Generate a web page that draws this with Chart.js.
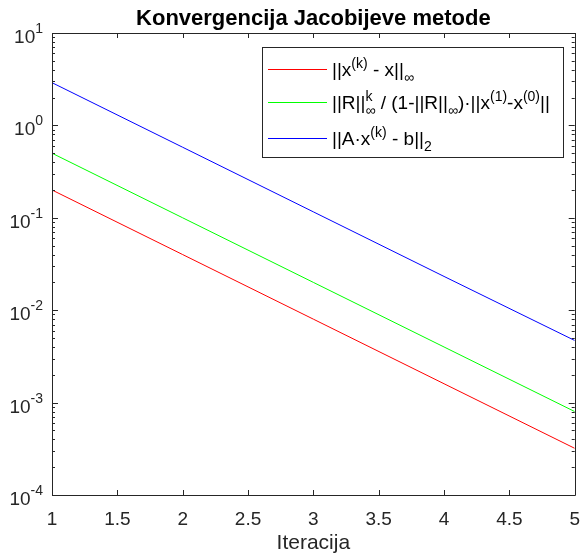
<html lang="hr">
<head>
  <meta charset="utf-8">
  <title>Konvergencija Jacobijeve metode</title>
  <style>
    body { padding: 0; margin: 0; background: #fff; }
  </style>
  <script src="https://cdn.jsdelivr.net/npm/chart.js@4.4.1/dist/chart.umd.min.js"></script>
</head>
<body>
  <canvas id="chart" width="585" height="554"></canvas>
  <script>
    // podaci
    const iterations = [1, 2, 3, 4, 5];
    const errTrue = [0.2, 0.04, 0.008, 0.0016, 0.00032];
    const errBound = [0.5, 0.1, 0.02, 0.004, 0.0008];
    const residual = [2.9, 0.58, 0.116, 0.0232, 0.0047];
    const yTickExps = [-4, -3, -2, -1, 0, 1];
    const titleText = 'Konvergencija Jacobijeve metode';
    const xLabel = 'Iteracija';

    // legenda: [tekst, 'n' | 'sup' | 'sub' | 'both']
    const legendRows = [
      { color: '#ff0000', parts: [['||x', 'n'], ['(k)', 'sup'], [' - x||', 'n'], ['\u221e', 'sub']] },
      { color: '#00ff00', parts: [['||R||', 'n'], [['k', '\u221e'], 'both'], [' / (1-||R||', 'n'], ['\u221e', 'sub'],
          [')\u00b7||x', 'n'], ['(1)', 'sup'], ['-x', 'n'], ['(0)', 'sup'], ['||', 'n']] },
      { color: '#0000ff', parts: [['||A\u00b7x', 'n'], ['(k)', 'sup'], [' - b||', 'n'], ['2', 'sub']] }
    ];

    const FONT = '"Liberation Sans", Arial, Helvetica, sans-serif';
    const AX = '#262626';

    const pts = arr => arr.map((v, i) => ({ x: iterations[i], y: v }));

    function drawRich(ctx, x, y, parts) {
      const big = '19px ' + FONT, small = '14px ' + FONT;
      ctx.textBaseline = 'alphabetic';
      ctx.textAlign = 'left';
      parts.forEach(([t, m]) => {
        if (m === 'n') {
          ctx.font = big; ctx.fillText(t, x, y); x += ctx.measureText(t).width;
        } else if (m === 'sup') {
          ctx.font = small; ctx.fillText(t, x, y - 8); x += ctx.measureText(t).width;
        } else if (m === 'sub') {
          ctx.font = small; ctx.fillText(t, x, y + 6); x += ctx.measureText(t).width;
        } else {
          ctx.font = small;
          ctx.fillText(t[0], x, y - 8);
          ctx.fillText(t[1], x, y + 6);
          x += Math.max(ctx.measureText(t[0]).width, ctx.measureText(t[1]).width);
        }
      });
    }

    const axisDecor = {
      id: 'axisDecor',
      afterDatasetsDraw(chart) {
        const ctx = chart.ctx;
        const a = chart.chartArea;
        const xs = chart.scales.x, ys = chart.scales.y;
        ctx.save();
        ctx.strokeStyle = AX;
        ctx.lineWidth = 1;
        ctx.beginPath();
        // okvir
        ctx.rect(Math.round(a.left) + 0.5, Math.round(a.top) + 0.5,
          Math.round(a.right - a.left), Math.round(a.bottom - a.top));
        // x oznake
        xs.ticks.forEach(t => {
          const px = Math.round(xs.getPixelForValue(t.value)) + 0.5;
          ctx.moveTo(px, a.bottom); ctx.lineTo(px, a.bottom - 5);
          ctx.moveTo(px, a.top); ctx.lineTo(px, a.top + 5);
        });
        // y oznake
        yTickExps.forEach(e => {
          const py = Math.round(ys.getPixelForValue(Math.pow(10, e))) + 0.5;
          ctx.moveTo(a.left, py); ctx.lineTo(a.left + 6, py);
          ctx.moveTo(a.right, py); ctx.lineTo(a.right - 6, py);
          if (e < yTickExps[yTickExps.length - 1]) {
            for (let m = 2; m <= 9; m++) {
              const pm = Math.round(ys.getPixelForValue(m * Math.pow(10, e))) + 0.5;
              ctx.moveTo(a.left, pm); ctx.lineTo(a.left + 3, pm);
              ctx.moveTo(a.right, pm); ctx.lineTo(a.right - 3, pm);
            }
          }
        });
        ctx.stroke();

        // naslov
        ctx.fillStyle = '#000';
        ctx.font = 'bold 22px ' + FONT;
        ctx.textAlign = 'center';
        ctx.textBaseline = 'alphabetic';
        ctx.fillText(titleText, (a.left + a.right) / 2, 25);

        // y natpisi 10^n
        ctx.fillStyle = AX;
        yTickExps.forEach(e => {
          const py = ys.getPixelForValue(Math.pow(10, e));
          ctx.font = '14px ' + FONT;
          const ew = ctx.measureText(String(e)).width;
          ctx.textAlign = 'right';
          ctx.textBaseline = 'alphabetic';
          ctx.fillText(String(e), 43, py);
          ctx.font = '19px ' + FONT;
          ctx.fillText('10', 43 - ew, py + 10);
        });

        // legenda
        const bx = 262, by = 47, bw = 301, bh = 110;
        ctx.fillStyle = '#fff';
        ctx.fillRect(bx, by, bw, bh);
        ctx.strokeStyle = AX;
        ctx.strokeRect(bx + 0.5, by + 0.5, bw, bh);
        const rowY = [69, 102, 138];
        legendRows.forEach((r, i) => {
          ctx.fillStyle = r.color;
          ctx.fillRect(268, rowY[i], 59, 1);
          ctx.fillStyle = '#000';
          drawRich(ctx, 332, rowY[i] + 7, r.parts);
        });
        ctx.restore();
      }
    };

    new Chart(document.getElementById('chart'), {
      type: 'line',
      data: {
        datasets: [
          { data: pts(errTrue), borderColor: '#ff0000' },
          { data: pts(errBound), borderColor: '#00ff00' },
          { data: pts(residual), borderColor: '#0000ff' }
        ]
      },
      options: {
        responsive: false,
        animation: false,
        devicePixelRatio: 1,
        layout: { padding: { left: 0, right: 8, top: 33, bottom: 0 } },
        elements: {
          line: { borderWidth: 1, tension: 0 },
          point: { radius: 0 }
        },
        plugins: {
          legend: { display: false },
          tooltip: { enabled: false },
          title: { display: false }
        },
        scales: {
          x: {
            type: 'linear',
            min: 1,
            max: 5,
            grid: { display: false },
            border: { display: false },
            ticks: {
              stepSize: 0.5, color: AX, font: { family: FONT, size: 19 }, padding: 5, maxRotation: 0,
              callback: v => String(v)
            },
            title: { display: true, text: xLabel, color: AX, font: { family: FONT, size: 21 }, padding: { top: 0, bottom: -2 } },
            afterFit: s => { s.height = 59; }
          },
          y: {
            type: 'logarithmic',
            min: 1e-4,
            max: 10,
            grid: { display: false },
            border: { display: false },
            ticks: { display: false },
            afterFit: s => { s.width = 52; }
          }
        }
      },
      plugins: [axisDecor]
    });
  </script>
</body>
</html>
